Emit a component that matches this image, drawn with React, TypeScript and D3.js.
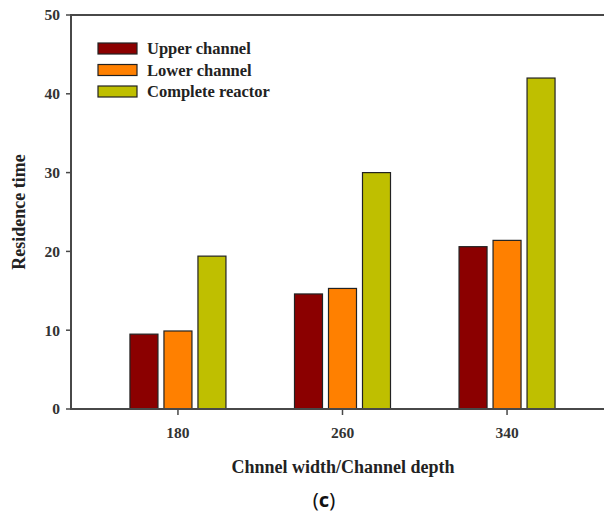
import React from "react";
import * as d3 from "d3";

const categories = ["180", "260", "340"];
const seriesNames = ["Upper channel", "Lower channel", "Complete reactor"];
const upperChannel = [9.5, 14.6, 20.6];
const lowerChannel = [9.9, 15.3, 21.4];
const completeReactor = [19.4, 30.0, 42.0];
const yTicks = [0, 10, 20, 30, 40, 50];
const colors = ["#8B0000", "#FF8000", "#BFBF00"];

const W = 604;
const H = 515;
const left = 71;
const top = 15;
const bottom = 409;

export default function App() {
  const series = [upperChannel, lowerChannel, completeReactor];
  const x = d3.scaleBand<string>().domain(categories).range([left, 614]).paddingInner(0).paddingOuter(0.15);
  const inner = d3
    .scaleBand<string>()
    .domain(seriesNames)
    .range([-48, 48])
    .paddingInner(6 / 34)
    .paddingOuter(0);
  const y = d3.scaleLinear().domain([0, 50]).range([bottom, top]);
  const font = "'Liberation Serif', 'Times New Roman', serif";
  const axisColor = "#484848";

  return (
    <svg width={W} height={H} style={{ position: "absolute", left: 0, top: 0 }} fontFamily={font}>
      <rect x={0} y={0} width={W} height={H} fill="#fff" />
      {/* bars */}
      {categories.map((c, ci) => {
        const cx = (x(c) as number) + x.bandwidth() / 2;
        return series.map((s, si) => (
          <rect
            key={c + si}
            x={cx + (inner(seriesNames[si]) as number)}
            y={y(s[ci])}
            width={inner.bandwidth()}
            height={y(0) - y(s[ci])}
            fill={colors[si]}
            stroke="#222"
            strokeWidth={1.2}
          />
        ));
      })}
      {/* axes frame */}
      <line x1={left} x2={W} y1={top} y2={top} stroke={axisColor} strokeWidth={2} />
      <line x1={left} x2={W} y1={bottom} y2={bottom} stroke={axisColor} strokeWidth={2} />
      <line x1={left} x2={left} y1={top - 1} y2={bottom + 1} stroke={axisColor} strokeWidth={2} />
      {/* y ticks */}
      {yTicks.map((t) => (
        <g key={t}>
          <line x1={left - 5} x2={left} y1={y(t)} y2={y(t)} stroke={axisColor} strokeWidth={1.5} />
          <text x={60} y={y(t)} dy="0.35em" textAnchor="end" fontSize={15.5} fontWeight="bold" fill="#333">
            {t}
          </text>
        </g>
      ))}
      {/* x ticks */}
      {categories.map((c) => {
        const cx = (x(c) as number) + x.bandwidth() / 2;
        return (
          <g key={c}>
            <line x1={cx} x2={cx} y1={bottom} y2={bottom + 6} stroke={axisColor} strokeWidth={1.5} />
            <text x={cx} y={432.5} dy="0.35em" textAnchor="middle" fontSize={15.5} fontWeight="bold" fill="#333">
              {c}
            </text>
          </g>
        );
      })}
      {/* axis titles */}
      <text
        transform={`translate(19, ${(top + bottom) / 2}) rotate(-90)`}
        textAnchor="middle"
        dy="0.35em"
        fontSize={18}
        fontWeight="bold"
        fill="#222"
      >
        Residence time
      </text>
      <text x={343} y={467} dy="0.35em" textAnchor="middle" fontSize={18} fontWeight="bold" fill="#222">
        Chnnel width/Channel depth
      </text>
      {/* legend */}
      {seriesNames.map((n, i) => (
        <g key={n}>
          <rect x={98} y={43 + i * 21.5} width={39} height={11} fill={colors[i]} stroke="#222" strokeWidth={1.2} />
          <text x={147} y={48.5 + i * 21.5} dy="0.35em" fontSize={16.5} fontWeight="bold" fill="#222">
            {n}
          </text>
        </g>
      ))}
      {/* panel label */}
      <text x={324} y={500} dy="0.35em" textAnchor="middle" fontSize={20} fontFamily="'Noto Sans', sans-serif" fill="#111">
        (<tspan fontWeight="bold">c</tspan>)
      </text>
    </svg>
  );
}
